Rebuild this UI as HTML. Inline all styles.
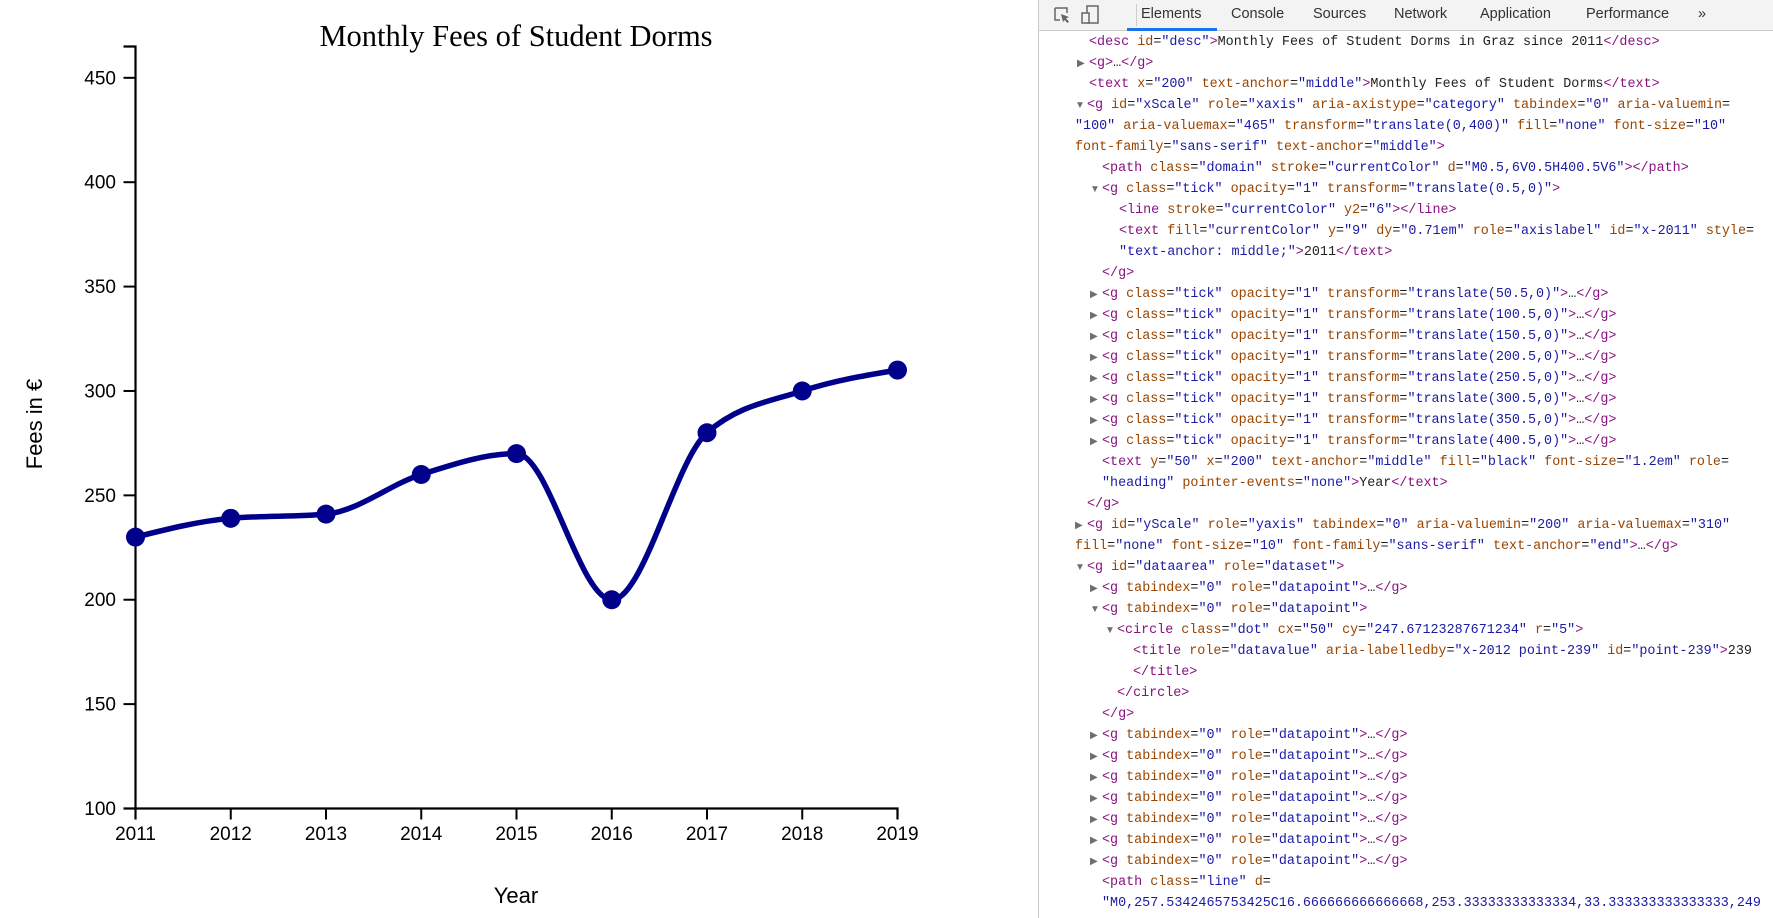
<!DOCTYPE html>
<html><head><meta charset="utf-8">
<style>
body{margin:0;width:1773px;height:918px;overflow:hidden;background:#fff;position:relative;font-family:"Liberation Sans",sans-serif}
#chart{position:absolute;left:0;top:0}
#devtools{position:absolute;left:1038px;top:0;width:735px;height:918px;border-left:1px solid #ccc;background:#fff;overflow:hidden}
#toolbar{position:absolute;left:0;top:0;width:735px;height:30px;background:#f3f3f3;border-bottom:1px solid #ccc}
.tab{position:absolute;top:6px;font-size:14.5px;color:#333;font-family:"Liberation Sans",sans-serif}
.row{position:absolute;height:21px;line-height:21px;white-space:pre;font-family:"Liberation Mono",monospace;font-size:13.4px;color:#222}
.tri{position:absolute;font-size:10px;color:#6e6e6e;line-height:21px}
.t{color:#881280}.a{color:#994500}.v{color:#1a1aa6}
</style></head><body>
<svg id="chart" width="1038" height="918" xmlns="http://www.w3.org/2000/svg">
  <text x="516" y="46" text-anchor="middle" font-family="Liberation Serif, serif" font-size="30.5">Monthly Fees of Student Dorms</text>
  <g id="yaxis"></g>
  <g id="xaxis"></g>
  <text x="516" y="903" text-anchor="middle" font-size="22">Year</text>
  <text transform="translate(42,424) rotate(-90)" text-anchor="middle" font-size="22">Fees in €</text>
  <path id="line" fill="none" stroke="#00008b" stroke-width="5.5"></path>
  <g id="dots"></g>
</svg>

<div id="devtools">
  <div id="toolbar">
    <svg style="position:absolute;left:14px;top:6px" width="18" height="18"><path d="M2 2h12v5M2 2v12h5" fill="none" stroke="#666" stroke-width="1.5"/><path d="M8 8l8 3-3 1.5 3 3-1.5 1.5-3-3L10 16z" fill="#666"/></svg>
    <svg style="position:absolute;left:42px;top:5px" width="20" height="20"><rect x="6" y="1" width="11" height="17" fill="none" stroke="#666" stroke-width="1.5"/><rect x="1" y="8" width="7" height="10" fill="#f3f3f3" stroke="#666" stroke-width="1.5"/></svg>
    <div style="position:absolute;left:97px;top:4px;width:1px;height:22px;background:#ccc"></div>
    <div class="tab" style="left:102px">Elements</div>
    <div style="position:absolute;left:88px;top:28px;width:90px;height:3px;background:#1a73e8"></div>
    <div class="tab" style="left:192px">Console</div>
    <div class="tab" style="left:274px">Sources</div>
    <div class="tab" style="left:355px">Network</div>
    <div class="tab" style="left:441px">Application</div>
    <div class="tab" style="left:547px">Performance</div>
    <div class="tab" style="left:659px">»</div>
  </div>
  <div id="rows"></div>
</div>

<script>
const years = ["2011","2012","2013","2014","2015","2016","2017","2018","2019"];
const fees = [230, 239, 241, 260, 270, 200, 280, 300, 310];
const yTicks = [100, 150, 200, 250, 300, 350, 400, 450];
const yMin = 100, yMax = 465;

const NS = "http://www.w3.org/2000/svg";
const X0 = 135.5, X1 = 897.5, Y0 = 808.5, Y1 = 46.5;
function xs(i){ return X0 + i * (X1 - X0) / (years.length - 1); }
function ys(v){ return Y0 - (v - yMin) / (yMax - yMin) * (Y0 - Y1); }
function mk(tag, attrs, parent){ const e = document.createElementNS(NS, tag); for (const k in attrs) e.setAttribute(k, attrs[k]); parent.appendChild(e); return e; }

const ya = document.getElementById('yaxis');
const yd = mk('path', {d:`M${X0-12},${Y1}H${X0}V${Y0}H${X0-12}`, fill:'none', stroke:'#000', 'stroke-width':2.2}, ya);


yTicks.forEach(v => {
  const l = mk('line', {x1:X0-12, x2:X0, y1:ys(v), y2:ys(v), stroke:'#000', 'stroke-width':2}, ya);
  
  
  const t = mk('text', {x:116, y:ys(v)+6.5, 'text-anchor':'end', 'font-size':19}, ya);
  
  
  t.textContent = v;
});
const xa = document.getElementById('xaxis');
const xd = mk('path', {d:`M${X0},${Y0+11}V${Y0}H${X1}V${Y0+11}`, fill:'none', stroke:'#000', 'stroke-width':2.2}, xa);


years.forEach((y, i) => {
  const l = mk('line', {x1:xs(i), x2:xs(i), y1:Y0, y2:Y0+11, stroke:'#000', 'stroke-width':2}, xa);
  
  
  const t = mk('text', {x:xs(i), y:840, 'text-anchor':'middle', 'font-size':19}, xa);
  
  
  t.textContent = y;
});

// monotone X curve
const px = fees.map((v, i) => xs(i)), py = fees.map(v => ys(v));
const n = px.length, sl = [], tg = [];
for (let i = 0; i < n-1; i++) sl.push((py[i+1]-py[i])/(px[i+1]-px[i]));
for (let i = 0; i < n; i++) {
  if (i === 0 || i === n-1) tg.push(null);
  else {
    const s0 = sl[i-1], s1 = sl[i], h0 = px[i]-px[i-1], h1 = px[i+1]-px[i];
    const p = (s0*h1 + s1*h0)/(h0+h1);
    tg.push((Math.sign(s0)+Math.sign(s1)) * Math.min(Math.abs(s0), Math.abs(s1), 0.5*Math.abs(p)) || 0);
  }
}
function endT(i, j, t){ const h = px[j]-px[i]; const s = (py[j]-py[i])/h; return (3*s - t)/2; }
tg[0] = endT(0, 1, tg[1]);
tg[n-1] = endT(n-2, n-1, tg[n-2]);
let d = `M${px[0]},${py[0]}`;
for (let i = 0; i < n-1; i++) {
  const dx = (px[i+1]-px[i])/3;
  d += `C${px[i]+dx},${py[i]+dx*tg[i]},${px[i+1]-dx},${py[i+1]-dx*tg[i+1]},${px[i+1]},${py[i+1]}`;
}
document.getElementById('line').setAttribute('d', d);
const dots = document.getElementById('dots');
fees.forEach((v, i) => {
  const c = mk('circle', {cx:xs(i), cy:ys(v), r:9.5, fill:'#00008b'}, dots);
  
  
});

const rows = [
 [50,'','<desc id="desc">Monthly Fees of Student Dorms in Graz since 2011</desc>'],
 [50,'r','<g>…</g>'],
 [50,'','<text x="200" text-anchor="middle">Monthly Fees of Student Dorms</text>'],
 [48,'d','<g id="xScale" role="xaxis" aria-axistype="category" tabindex="0" aria-valuemin='],
 [36,'','"100" aria-valuemax="465" transform="translate(0,400)" fill="none" font-size="10"'],
 [36,'','font-family="sans-serif" text-anchor="middle">'],
 [63,'','<path class="domain" stroke="currentColor" d="M0.5,6V0.5H400.5V6"></path>'],
 [63,'d','<g class="tick" opacity="1" transform="translate(0.5,0)">'],
 [80,'','<line stroke="currentColor" y2="6"></line>'],
 [80,'','<text fill="currentColor" y="9" dy="0.71em" role="axislabel" id="x-2011" style='],
 [80,'','"text-anchor: middle;">2011</text>'],
 [63,'','</g>'],
 [63,'r','<g class="tick" opacity="1" transform="translate(50.5,0)">…</g>'],
 [63,'r','<g class="tick" opacity="1" transform="translate(100.5,0)">…</g>'],
 [63,'r','<g class="tick" opacity="1" transform="translate(150.5,0)">…</g>'],
 [63,'r','<g class="tick" opacity="1" transform="translate(200.5,0)">…</g>'],
 [63,'r','<g class="tick" opacity="1" transform="translate(250.5,0)">…</g>'],
 [63,'r','<g class="tick" opacity="1" transform="translate(300.5,0)">…</g>'],
 [63,'r','<g class="tick" opacity="1" transform="translate(350.5,0)">…</g>'],
 [63,'r','<g class="tick" opacity="1" transform="translate(400.5,0)">…</g>'],
 [63,'','<text y="50" x="200" text-anchor="middle" fill="black" font-size="1.2em" role='],
 [63,'','"heading" pointer-events="none">Year</text>'],
 [48,'','</g>'],
 [48,'r','<g id="yScale" role="yaxis" tabindex="0" aria-valuemin="200" aria-valuemax="310"'],
 [36,'','fill="none" font-size="10" font-family="sans-serif" text-anchor="end">…</g>'],
 [48,'d','<g id="dataarea" role="dataset">'],
 [63,'r','<g tabindex="0" role="datapoint">…</g>'],
 [63,'d','<g tabindex="0" role="datapoint">'],
 [78,'d','<circle class="dot" cx="50" cy="247.67123287671234" r="5">'],
 [94,'','<title role="datavalue" aria-labelledby="x-2012 point-239" id="point-239">239'],
 [94,'','</title>'],
 [78,'','</circle>'],
 [63,'','</g>'],
 [63,'r','<g tabindex="0" role="datapoint">…</g>'],
 [63,'r','<g tabindex="0" role="datapoint">…</g>'],
 [63,'r','<g tabindex="0" role="datapoint">…</g>'],
 [63,'r','<g tabindex="0" role="datapoint">…</g>'],
 [63,'r','<g tabindex="0" role="datapoint">…</g>'],
 [63,'r','<g tabindex="0" role="datapoint">…</g>'],
 [63,'r','<g tabindex="0" role="datapoint">…</g>'],
 [63,'','<path class="line" d='],
 [63,'','"M0,257.5342465753425C16.666666666666668,253.33333333333334,33.333333333333333,249'],
];
function esc(s){ return s.replace(/&/g,'&amp;').replace(/</g,'&lt;').replace(/>/g,'&gt;'); }
function hl(s){
  let out = '', last = 0;
  const re = /("[^"]*"?)|([\w-]+)(?==)|(<\/?[\w]+)|(>)/g; let m;
  while ((m = re.exec(s))) {
    out += esc(s.slice(last, m.index));
    if (m[1]) out += '<span class="v">' + esc(m[1]) + '</span>';
    else if (m[2]) out += '<span class="a">' + esc(m[2]) + '</span>';
    else out += '<span class="t">' + esc(m[0]) + '</span>';
    last = re.lastIndex;
  }
  return out + esc(s.slice(last));
}
const rc = document.getElementById('rows');
rows.forEach((r, i) => {
  const top = 31.5 + i * 21;
  if (r[1]) {
    const tr = document.createElement('div');
    tr.className = 'tri';
    
    
    tr.style.left = (r[0] - 12) + 'px';
    tr.style.top = top + 'px';
    tr.textContent = r[1] === 'r' ? '▶' : '▼';
    rc.appendChild(tr);
  }
  const el = document.createElement('div');
  el.className = 'row';
  
  
  el.style.left = r[0] + 'px';
  el.style.top = top + 'px';
  el.innerHTML = hl(r[2]);
  rc.appendChild(el);
});
</script>
</body></html>
